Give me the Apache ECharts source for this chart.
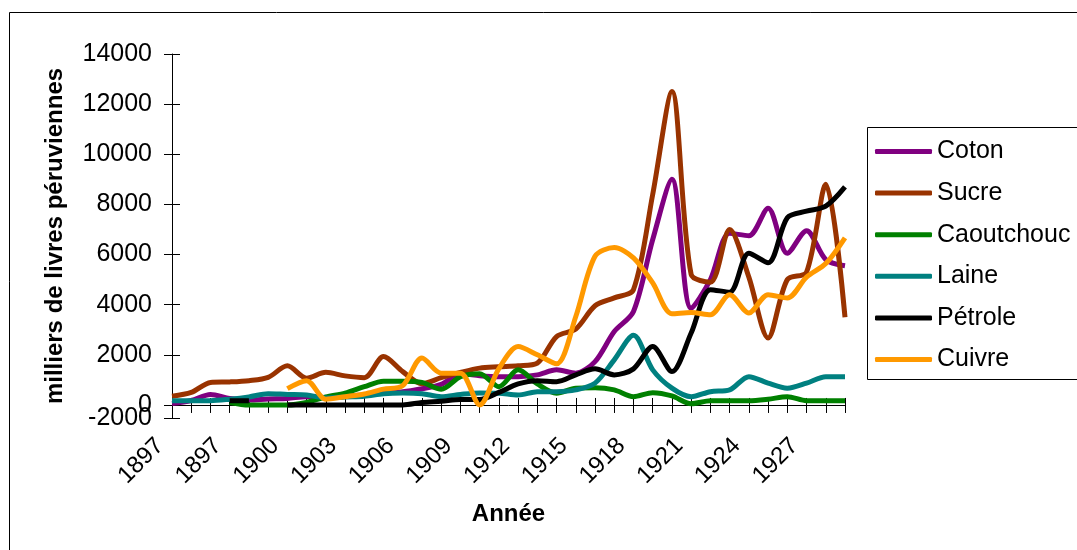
<!DOCTYPE html>
<html>
<head>
<meta charset="utf-8">
<script src="https://cdn.jsdelivr.net/npm/echarts@6/dist/echarts.min.js"></script>
<style>
  html, body { margin: 0; padding: 0; background: #fff; }
  #main { width: 1077px; height: 550px; }
</style>
</head>
<body>
<div id="main"></div>
<script>
// categories (first one as printed on the original axis)
var years = ['1897', '1895', '1896', '1897', '1898', '1899', '1900', '1901', '1902', '1903',
  '1904', '1905', '1906', '1907', '1908', '1909', '1910', '1911', '1912', '1913',
  '1914', '1915', '1916', '1917', '1918', '1919', '1920', '1921', '1922', '1923',
  '1924', '1925', '1926', '1927', '1928', '1929'];

var coton = [60, 180, 420, 260, 200, 240, 260, 330, 300, 370, 400, 500, 530, 650, 820, 1250, 1170, 1130,
  1130, 1200, 1400, 1270, 1730, 2930, 3730, 6600, 9000, 3850, 5000, 6850, 6750, 7850, 6050, 6950, 5800, 5550];
var sucre = [350, 500, 900, 920, 970, 1100, 1560, 1070, 1300, 1160, 1090, 1930, 1330, 850, 1090, 1300, 1470, 1520,
  1560, 1670, 2730, 3030, 3960, 4270, 4600, 8400, 12500, 5200, 4900, 7000, 5100, 2670, 5000, 5300, 8800, 3500];
var caoutchouc = [null, null, null, 100, 0, 0, 0, 100, 320, 470, 730, 950, 950, 900, 630, 1130, 1250, 730,
  1400, 840, 470, 670, 690, 600, 330, 490, 360, 50, 170, 170, 170, 230, 330, 170, 170, 170];
var laine = [170, 170, 170, 230, 320, 450, 420, 400, 280, 320, 350, 450, 480, 450, 330, 420, 480, 470,
  400, 530, 530, 600, 870, 1800, 2780, 1400, 670, 330, 530, 600, 1130, 870, 670, 870, 1130, 1130];
var petrole = [null, null, null, 170, 170, null, 0, 0, 0, 0, 0, 0, 0, 100, 150, 220, 220, 500,
  840, 970, 930, 1200, 1440, 1200, 1440, 2330, 1330, 2870, 4600, 4500, 6050, 5670, 7470, 7730, 7930, 8700];
var cuivre = [null, null, null, null, null, null, 650, 970, 230, 330, 440, 630, 770, 1870, 1270, 1270, 0, 1450,
  2330, 2000, 1640, 3530, 5930, 6280, 5870, 4870, 3640, 3690, 3600, 4400, 3670, 4400, 4270, 5100, 5640, 6670];

// y tick positions and their printed labels (bottom of the plot is printed as -2000)
var yTickValues = [-520, 0, 2000, 4000, 6000, 8000, 10000, 12000, 14000];
var yTickLabels = ['-2000', '0', '2000', '4000', '6000', '8000', '10000', '12000', '14000'];

var FONT = '"Liberation Sans", Arial, sans-serif';
var names = ['Coton', 'Sucre', 'Caoutchouc', 'Laine', 'Pétrole', 'Cuivre'];
var colors = ['#800080', '#993300', '#008000', '#008080', '#000000', '#FF9900'];
var values = [coton, sucre, caoutchouc, laine, petrole, cuivre];

function yLabel(v) {
  var k = yTickValues.indexOf(v);
  return k >= 0 ? yTickLabels[k] : '';
}

var myChart = echarts.init(document.getElementById('main'));

var series = names.map(function (n, i) {
  return {
    name: n,
    type: 'line',
    data: values[i],
    smooth: 0.3,
    showSymbol: false,
    symbol: 'none',
    lineStyle: { color: colors[i], width: 5 },
    itemStyle: { color: colors[i] }
  };
});

myChart.setOption({
  animation: false,
  backgroundColor: '#fff',
  color: colors,
  grid: { left: 172, right: 232, top: 54, bottom: 132 },
  legend: {
    orient: 'vertical',
    left: 875,
    top: 139,
    padding: 0,
    icon: 'roundRect',
    itemWidth: 57,
    itemHeight: 5,
    itemGap: 16.6,
    textStyle: { fontSize: 25, lineHeight: 25, color: '#000', fontFamily: FONT },
    data: names
  },
  graphic: [
    { type: 'rect', shape: { x: 9.5, y: 12.5, width: 1200, height: 700 },
      style: { fill: 'none', stroke: '#000', lineWidth: 1 }, silent: true },
    { type: 'rect', shape: { x: 867.5, y: 127.5, width: 260, height: 252 },
      style: { fill: 'none', stroke: '#000', lineWidth: 1 }, silent: true }
  ],
  xAxis: [{
    type: 'category',
    data: years,
    boundaryGap: false,
    name: 'Année',
    nameLocation: 'middle',
    nameGap: 84,
    nameTextStyle: { fontSize: 24, fontWeight: 'bold', color: '#000', fontFamily: FONT },
    axisLine: { onZero: true, lineStyle: { color: '#000', width: 1 } },
    axisTick: { interval: 0, length: 8, lineStyle: { color: '#000' } },
    axisLabel: {
      interval: 2, rotate: 45, margin: 12, padding: [0, 17, 0, 0],
      fontSize: 24, color: '#000', fontFamily: FONT
    },
    splitLine: { show: false }
  }, {
    type: 'category',
    data: years,
    boundaryGap: false,
    position: 'bottom',
    axisLine: { show: false, onZero: true },
    axisTick: { interval: 0, inside: true, length: 7, lineStyle: { color: '#000' } },
    axisLabel: { show: false },
    splitLine: { show: false }
  }],
  yAxis: [{
    type: 'value',
    min: -520,
    max: 14000,
    name: 'milliers de livres péruviennes',
    nameLocation: 'middle',
    nameRotate: 90,
    nameGap: 105,
    nameTextStyle: { fontSize: 24, fontWeight: 'bold', color: '#000', fontFamily: FONT },
    axisLine: { show: true, lineStyle: { color: '#000', width: 1 } },
    axisTick: { show: true, length: 8, customValues: yTickValues, lineStyle: { color: '#000' } },
    axisLabel: {
      margin: 20, fontSize: 25, color: '#000', fontFamily: FONT,
      customValues: yTickValues.slice(1),
      formatter: yLabel
    },
    splitLine: { show: false }
  }, {
    type: 'value',
    min: -520,
    max: 14000,
    position: 'left',
    axisLine: { show: false },
    axisTick: { show: true, inside: true, length: 8, customValues: yTickValues, lineStyle: { color: '#000' } },
    axisLabel: {
      margin: 20, fontSize: 25, color: '#000', fontFamily: FONT,
      showMinLabel: true,
      customValues: yTickValues.slice(0, 1),
      formatter: yLabel
    },
    splitLine: { show: false }
  }],
  series: series
});
</script>
</body>
</html>
